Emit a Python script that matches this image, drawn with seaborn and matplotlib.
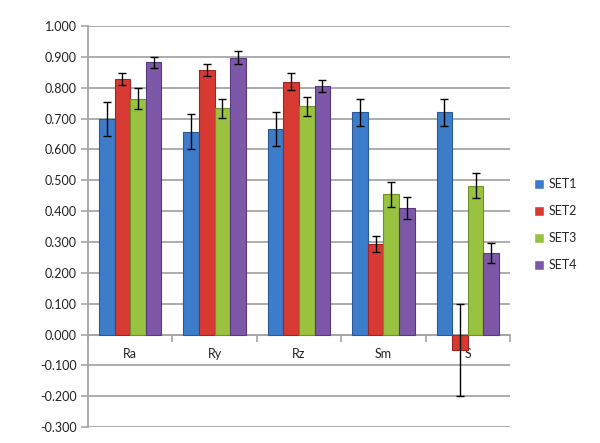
import matplotlib
matplotlib.use("Agg")
import matplotlib.pyplot as plt
from matplotlib.ticker import FixedLocator, MultipleLocator, FormatStrFormatter
import seaborn as sns
import pandas as pd

categories = ["Ra", "Ry", "Rz", "Sm", "S"]
series = ["SET1", "SET2", "SET3", "SET4"]
set1 = [0.700, 0.657, 0.665, 0.720, 0.720]
set2 = [0.828, 0.857, 0.820, 0.293, -0.050]
set3 = [0.765, 0.733, 0.740, 0.455, 0.483]
set4 = [0.883, 0.898, 0.806, 0.410, 0.265]
err1 = [0.055, 0.057, 0.055, 0.045, 0.045]
err2 = [0.020, 0.020, 0.028, 0.027, 0.149]
err3 = [0.033, 0.030, 0.030, 0.040, 0.040]
err4 = [0.018, 0.020, 0.020, 0.035, 0.033]

colors = ["#3D7CC9", "#D73A33", "#98C23F", "#7D58A8"]
edges = ["#2A5A96", "#9E2622", "#6E9128", "#58397D"]

values = [set1, set2, set3, set4]
errors = [err1, err2, err3, err4]
df = pd.DataFrame(
    {
        "cat": [c for _ in series for c in categories],
        "set": [s for s in series for _ in categories],
        "val": [v for vals in values for v in vals],
    }
)

sns.set_theme(style="white")
plt.rcParams["font.family"] = ["Lato", "DejaVu Sans"]

fig = plt.figure(figsize=(6.0, 4.43), dpi=100)
ax = fig.add_axes([0.1467, 0.036, 0.7033, 0.905])

sns.barplot(
    data=df, x="cat", y="val", hue="set", order=categories, hue_order=series,
    palette=colors, width=0.74, errorbar=None, saturation=1, ax=ax, zorder=3,
)

# outline bars and put the error bars on top of them
for cont, errs, ec in zip(ax.containers, errors, edges):
    xs = []
    ys = []
    for bar in cont:
        bar.set_edgecolor(ec)
        bar.set_linewidth(0.8)
        xs.append(bar.get_x() + bar.get_width() / 2)
        ys.append(bar.get_y() + bar.get_height())
    ax.errorbar(xs, ys, yerr=errs, fmt="none", ecolor="black", elinewidth=1,
                capsize=3, capthick=1, zorder=4)

ax.set_ylim(-0.3, 1.0)
ax.set_xlim(-0.5, len(categories) - 0.5)
ax.yaxis.set_major_locator(MultipleLocator(0.1))
ax.yaxis.set_major_formatter(FormatStrFormatter("%.3f"))
ax.grid(axis="y", color="#A6A6A6", linewidth=1.3, zorder=0)
ax.set_axisbelow(True)

# category axis sits on the zero line
ax.spines["bottom"].set_position(("data", 0))
ax.spines["bottom"].set_color("#A6A6A6")
ax.spines["bottom"].set_linewidth(1.3)
ax.spines["left"].set_color("#A6A6A6")
ax.spines["left"].set_linewidth(1.3)
ax.spines["top"].set_visible(False)
ax.spines["right"].set_visible(False)

bounds = [i - 0.5 for i in range(len(categories) + 1)]
ax.xaxis.set_major_locator(FixedLocator(bounds))
ax.xaxis.set_major_formatter(plt.NullFormatter())
ax.set_xticks(range(len(categories)), minor=True)
ax.set_xticklabels(categories, minor=True)
ax.tick_params(axis="x", which="major", length=5, width=1.2, color="#A6A6A6",
               direction="out", bottom=True)
ax.tick_params(axis="x", which="minor", length=0, pad=10, labelsize=9,
               labelcolor="#222222")
ax.tick_params(axis="y", length=5, width=1.2, color="#A6A6A6", left=True,
               labelsize=9, labelcolor="#222222", pad=3)
ax.set_xlabel("")
ax.set_ylabel("")

ax.legend(loc="center left", bbox_to_anchor=(1.03, 0.505), frameon=False,
          fontsize=9, handlelength=0.8, handleheight=0.8,
          labelspacing=1.2, handletextpad=0.4)

fig.savefig("out.png", dpi=100)
